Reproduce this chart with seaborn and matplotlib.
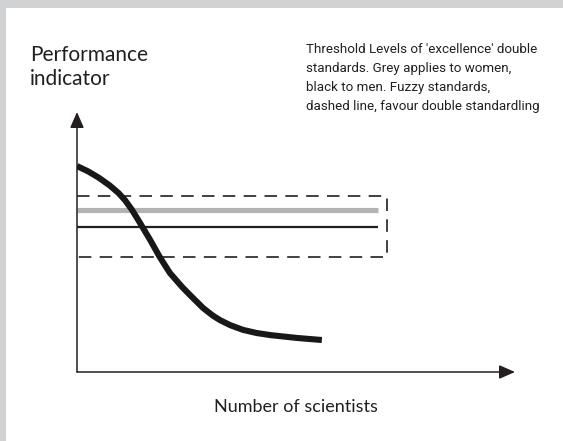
import seaborn as sns
import matplotlib.pyplot as plt
import pandas as pd
from matplotlib.patches import Rectangle

# Performance curve (arbitrary units, axes run 0..10)
curve_x = [0.0, 0.25, 0.5, 0.75, 0.95, 1.1, 1.25, 1.44, 1.67, 1.89, 2.12, 2.40, 2.58,
           2.88, 3.1, 3.26, 3.5, 3.79, 4.1, 4.41, 5.02, 5.59]
curve_y = [7.92, 7.72, 7.47, 7.17, 6.88, 6.6, 6.25, 5.73, 5.08, 4.42, 3.81, 3.27, 2.96,
           2.46, 2.17, 2.00, 1.8, 1.62, 1.5, 1.42, 1.31, 1.23]

# threshold levels
women_x = [0.0, 6.87]
women_y = [6.23, 6.23]
men_x = [0.0, 6.87]
men_y = [5.58, 5.58]

# fuzzy standard band (dashed box)
band_x = [0.0, 7.08, 7.08, 0.0]
band_y = [6.77, 6.77, 4.42, 4.42]

y_label = 'Performance\nindicator'
x_label = 'Number of scientists'
note = ("Threshold Levels of 'excellence' double\n"
        "standards. Grey applies to women,\n"
        "black to men. Fuzzy standards,\n"
        "dashed line, favour double standardling")

sns.set_style('white')
plt.rcParams['font.family'] = ['Lato', 'DejaVu Sans']

W, H = 563, 441
fig = plt.figure(figsize=(W / 100, H / 100), dpi=100, facecolor='#d1d2d4')
# white panel inside the grey frame
fig.patches.append(Rectangle((6 / W, 0), 1 - 6 / W, (H - 8) / H, transform=fig.transFigure,
                             facecolor='white', edgecolor='none', zorder=-5))

ax = fig.add_axes([77 / W, (H - 372) / H, 438 / W, 260 / H])
ax.set_zorder(2)
ax.set_facecolor('none')
ax.set_xlim(0, 10)
ax.set_ylim(0, 10)
for s in ax.spines.values():
    s.set_visible(False)
ax.set_xticks([])
ax.set_yticks([])

sns.lineplot(x=band_x, y=band_y, sort=False, estimator=None, ax=ax, color='#231f20', lw=1.2,
             linestyle=(0, (7.5, 5)), zorder=2)
sns.lineplot(x=women_x, y=women_y, estimator=None, ax=ax, color='#b3b3b3', lw=3.7,
             solid_capstyle='butt', zorder=3)
sns.lineplot(x=men_x, y=men_y, estimator=None, ax=ax, color='#231f20', lw=1.6,
             solid_capstyle='butt', zorder=3)
curve = pd.DataFrame({'x': curve_x, 'y': curve_y})
sns.lineplot(data=curve, x='x', y='y', sort=False, estimator=None, ax=ax, color='#1a171b',
             lw=4.4, solid_capstyle='butt', solid_joinstyle='round', zorder=4)
ax.set_xlabel('')
ax.set_ylabel('')

arrow = dict(arrowstyle='-|>,head_length=0.8,head_width=0.35', color='#231f20', lw=1.1,
             shrinkA=0, shrinkB=0, mutation_scale=12)
ax.annotate('', xy=(1, 0), xytext=(0, 0), xycoords='axes fraction', arrowprops=arrow)
ax.annotate('', xy=(0, 1), xytext=(0, 0), xycoords='axes fraction', arrowprops=arrow)

fig.text(30 / W, 1 - 45 / H, y_label, ha='left', va='top', fontsize=15,
         color='#231f20', linespacing=1.25)
fig.text(296 / W, 1 - 407 / H, x_label, ha='center', va='center', fontsize=13,
         color='#231f20')
fig.text(306 / W, 1 - 43 / H, note, ha='left', va='top', fontsize=9.6,
         family=['Roboto', 'DejaVu Sans'], color='#231f20', linespacing=1.6)

fig.savefig('out.png', dpi=100, facecolor=fig.get_facecolor())
